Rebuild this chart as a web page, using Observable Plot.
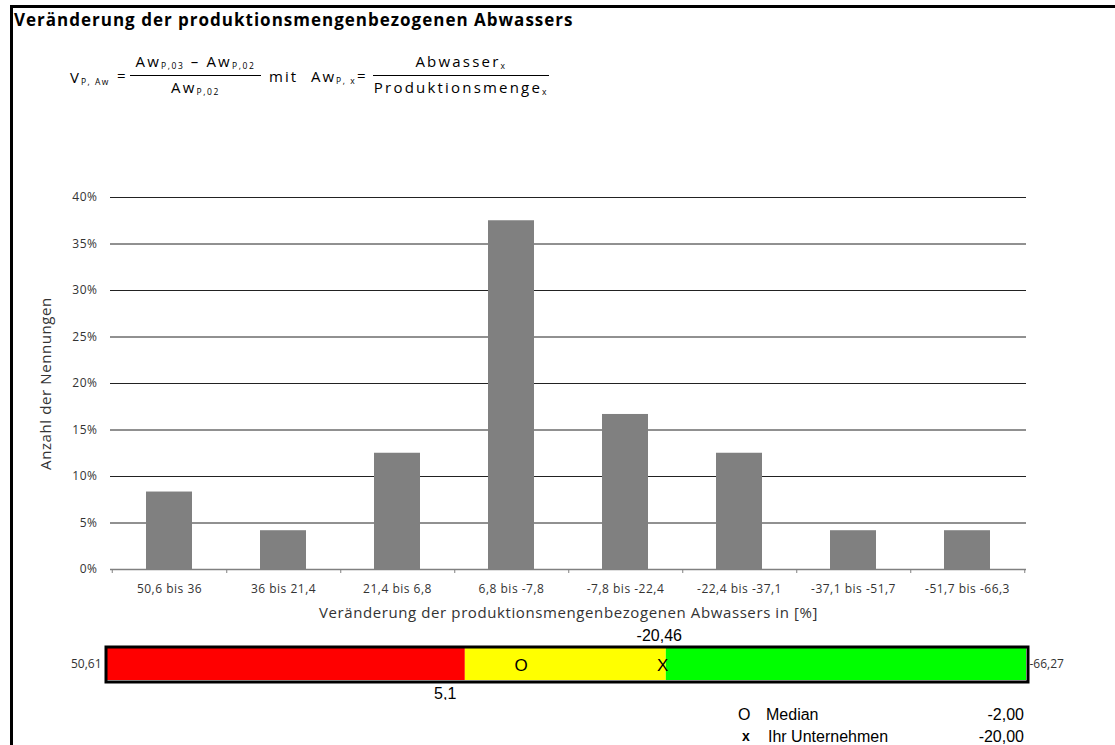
<!DOCTYPE html>
<html><head><meta charset="utf-8">
<script src="https://cdn.jsdelivr.net/npm/d3@7"></script>
<script src="https://cdn.jsdelivr.net/npm/@observablehq/plot@0.6"></script>
<style>
body{margin:0;background:#fff;}
#wrap{position:relative;width:1115px;height:745px;overflow:hidden;font-family:"Open Sans",sans-serif;color:#000;}
#frame{position:absolute;left:10px;top:5px;width:1200px;height:800px;border-left:3px solid #000;border-top:3px solid #000;}
#title{position:absolute;left:14px;top:8px;font-weight:bold;font-size:17px;letter-spacing:1px;white-space:nowrap;}
.f{position:absolute;font-size:15px;white-space:nowrap;letter-spacing:2px;line-height:20px;}
.f sub{font-size:8.5px;vertical-align:-2px;letter-spacing:1.5px;}
.frac{position:absolute;text-align:center;font-size:15px;white-space:nowrap;letter-spacing:2.2px;}
.frac sub{font-size:8.5px;vertical-align:-2px;letter-spacing:1.6px;}
.frac .num{border-bottom:1px solid #000;line-height:19px;}
.frac .den{padding-top:2px;line-height:19px;}
#main{position:absolute;left:0;top:180px;}
#scale{position:absolute;left:0;top:620px;}
.leg{position:absolute;font-family:"Liberation Sans",Arial,sans-serif;font-size:16px;white-space:nowrap;}
</style></head>
<body>
<div id="wrap">
<div id="frame"></div>
<div id="title">Veränderung der produktionsmengenbezogenen Abwassers</div>
<div class="f" style="left:70px;top:67px;">V<sub>P, Aw</sub></div>
<div class="f" style="left:117px;top:65px;">=</div>
<div class="frac" style="left:130px;top:52px;width:131px;"><div class="num">Aw<sub>P,03</sub> – Aw<sub>P,02</sub></div><div class="den">Aw<sub>P,02</sub></div></div>
<div class="f" style="left:269px;top:66px;">mit</div>
<div class="f" style="left:311px;top:66px;">Aw<sub>P, x</sub></div>
<div class="f" style="left:357px;top:65px;">=</div>
<div class="frac" style="left:373px;top:52px;width:176px;"><div class="num">Abwasser<sub>x</sub></div><div class="den">Produktionsmenge<sub>x</sub></div></div>
<div id="main"></div>
<div id="scale"></div>
<div id="legend"></div>
</div>
<script>
// ---- data ----
const categories = ["50,6 bis 36","36 bis 21,4","21,4 bis 6,8","6,8 bis -7,8","-7,8 bis -22,4","-22,4 bis -37,1","-37,1 bis -51,7","-51,7 bis -66,3"];
const shares = [0.0833, 0.0417, 0.125, 0.375, 0.1667, 0.125, 0.0417, 0.0417];
const yTicks = [0, 0.05, 0.10, 0.15, 0.20, 0.25, 0.30, 0.35, 0.40];
const zoneBounds = [50.61, 5.1, -20.46, -66.27];
const zoneColors = ["#ff0000", "#ffff00", "#00ff00"];
const medianValue = -2.00;
const companyValue = -20.00;
const legendLabels = ["Median", "Ihr Unternehmen"];
const legendSymbols = ["O", "x"];

const de = v => String(v).replace(".", ",");
const de2 = v => v.toFixed(2).replace(".", ",");

const data = categories.map((c, i) => ({cat: c, share: shares[i]}));

// ---- main histogram ----
const W = 1115, mL = 110, mR = 89;
const n = categories.length, pI = 0.6, pO = 0.3;
const step = (W - mL - mR) / (n - pI + 2 * pO);

const main = Plot.plot({
  width: W, height: 445,
  marginLeft: mL, marginRight: mR, marginTop: 17, marginBottom: 56,
  style: {fontFamily: "'Open Sans', sans-serif", fontSize: "12px", color: "#333", background: "transparent", letterSpacing: "0.5px"},
  x: {domain: categories, paddingInner: pI, paddingOuter: pO},
  y: {domain: [0, 0.4]},
  marks: [
    Plot.gridY(yTicks.slice(1), {stroke: "#222", strokeOpacity: 1, strokeWidth: 1}),
    Plot.barY(data, {x: "cat", y: "share", fill: "#808080"}),
    Plot.ruleY([0], {stroke: "#808080", strokeWidth: 1.5}),
    Plot.ruleX(categories, {x: d => d, y1: 0, y2: 0, insetBottom: -4, dx: step / 2, stroke: "#808080"}),
    Plot.ruleX(categories.slice(0, 1), {x: d => d, y1: 0, y2: 0, insetBottom: -4, dx: -step / 2, stroke: "#808080"}),
    Plot.axisY(yTicks, {tickFormat: d3.format(".0%"), tickSize: 0, tickPadding: 13, fontSize: 12,
      label: "Anzahl der Nennungen", labelAnchor: "center", labelArrow: "none", labelOffset: 70}),
    Plot.axisX({tickSize: 0, tickPadding: 15, fontSize: 12,
      label: "Veränderung der produktionsmengenbezogenen Abwassers in [%]", labelAnchor: "center", labelArrow: "none", labelOffset: 48})
  ]
});
main.querySelectorAll("[aria-label='y-axis label'] text, [aria-label='x-axis label'] text").forEach(t => { t.style.fontSize = "15px"; t.style.letterSpacing = "0.6px"; });
document.getElementById("main").appendChild(main);

// ---- bottom scale bar ----
const zones = zoneColors.map((c, i) => ({x1: zoneBounds[i], x2: zoneBounds[i + 1], fill: c}));
const scale = Plot.plot({
  width: W, height: 80,
  marginLeft: 107, marginRight: 89, marginTop: 28, marginBottom: 20,
  style: {fontFamily: "'Liberation Sans', Arial, sans-serif", background: "transparent"},
  x: {domain: [zoneBounds[0], zoneBounds[3]], axis: null},
  marks: [
    Plot.rectX(zones, {x1: "x1", x2: "x2", fill: "fill"}),
    Plot.frame({stroke: "#000", strokeWidth: 3, inset: -1.5}),
    Plot.text([medianValue], {x: d => d, text: () => "O", frameAnchor: "middle", fontSize: 17, dy: 1}),
    Plot.text([companyValue], {x: d => d, text: () => "X", frameAnchor: "middle", fontSize: 17, dy: 1}),
    Plot.text([zoneBounds[1]], {x: d => d, text: d => de(d), frameAnchor: "bottom", textAnchor: "end", dx: -9, dy: 18, fontSize: 16}),
    Plot.text([zoneBounds[2]], {x: d => d, text: d => de(d), frameAnchor: "top", dx: -7, dy: -19, fontSize: 16}),
    Plot.text([zoneBounds[0]], {x: d => d, text: d => de(d), frameAnchor: "middle", textAnchor: "end", dx: -6, fontSize: 12, fill: "#333", fontFamily: "'Open Sans', sans-serif"}),
    Plot.text([zoneBounds[3]], {x: d => d, text: d => de(d), frameAnchor: "middle", textAnchor: "start", dx: 3, fontSize: 12, fill: "#333", fontFamily: "'Open Sans', sans-serif"})
  ]
});
scale.querySelectorAll("text").forEach(t => { if (t.getAttribute("font-family")) t.style.letterSpacing = "0.6px"; });
document.getElementById("scale").appendChild(scale);

// ---- legend ----
const leg = document.getElementById("legend");
const vals = [medianValue, companyValue];
legendLabels.forEach((lab, i) => {
  const top = 706 + i * 22;
  leg.insertAdjacentHTML("beforeend",
    `<div class="leg" style="left:${i ? 742 : 738}px;top:${top}px;font-weight:${i ? 'bold' : 'normal'};font-size:${i ? 14 : 16}px">${legendSymbols[i]}</div>` +
    `<div class="leg" style="left:${i ? 768 : 766}px;top:${top}px">${lab}</div>` +
    `<div class="leg" style="right:${1115 - 1024}px;top:${top}px">${de2(vals[i])}</div>`);
});
</script>
</body></html>
